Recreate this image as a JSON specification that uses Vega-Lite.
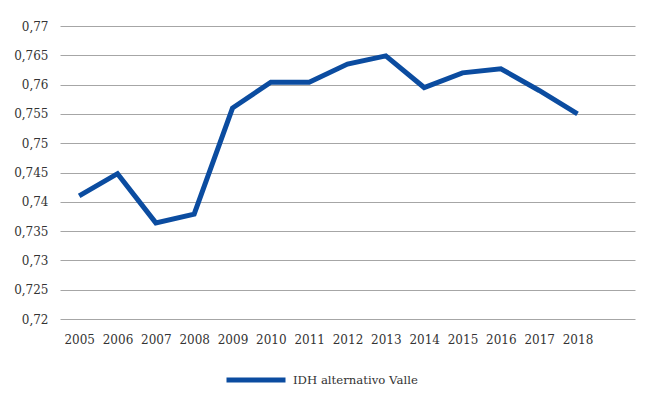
{
  "$schema": "https://vega.github.io/schema/vega-lite/v6.json",
  "autosize": "none",
  "width": 575,
  "height": 293,
  "padding": {"left": 60, "top": 26, "right": 22, "bottom": 84},
  "background": "white",
  "config": {
    "view": {"stroke": null},
    "font": "DejaVu Serif",
    "axis": {"labelFont": "DejaVu Serif", "labelFontSize": 12, "labelColor": "#333333", "ticks": false, "domain": false, "title": null}
  },
  "data": {
    "values": [
      {"year": 2005, "serie": "IDH alternativo Valle", "value": 0.741},
      {"year": 2006, "serie": "IDH alternativo Valle", "value": 0.7448},
      {"year": 2007, "serie": "IDH alternativo Valle", "value": 0.7364},
      {"year": 2008, "serie": "IDH alternativo Valle", "value": 0.7379},
      {"year": 2009, "serie": "IDH alternativo Valle", "value": 0.756},
      {"year": 2010, "serie": "IDH alternativo Valle", "value": 0.7604},
      {"year": 2011, "serie": "IDH alternativo Valle", "value": 0.7604},
      {"year": 2012, "serie": "IDH alternativo Valle", "value": 0.7635},
      {"year": 2013, "serie": "IDH alternativo Valle", "value": 0.7649},
      {"year": 2014, "serie": "IDH alternativo Valle", "value": 0.7595},
      {"year": 2015, "serie": "IDH alternativo Valle", "value": 0.762},
      {"year": 2016, "serie": "IDH alternativo Valle", "value": 0.7627},
      {"year": 2017, "serie": "IDH alternativo Valle", "value": 0.759},
      {"year": 2018, "serie": "IDH alternativo Valle", "value": 0.755}
    ]
  },
  "mark": {"type": "line", "strokeWidth": 5, "strokeJoin": "miter", "strokeCap": "butt"},
  "encoding": {
    "x": {
      "field": "year",
      "type": "quantitative",
      "scale": {"domain": [2004.5, 2019.5], "nice": false, "zero": false},
      "axis": {
        "values": [2005, 2006, 2007, 2008, 2009, 2010, 2011, 2012, 2013, 2014, 2015, 2016, 2017, 2018],
        "format": "d",
        "grid": false,
        "labelPadding": 15,
        "labelFlush": false,
        "labelOverlap": false
      }
    },
    "y": {
      "field": "value",
      "type": "quantitative",
      "scale": {"domain": [0.72, 0.77], "nice": false, "zero": false},
      "axis": {
        "values": [0.72, 0.725, 0.73, 0.735, 0.74, 0.745, 0.75, 0.755, 0.76, 0.765, 0.77],
        "labelExpr": "replace(format(datum.value, '.3~f'), '.', ',')",
        "grid": true,
        "gridColor": "#a6a6a6",
        "gridWidth": 1,
        "labelPadding": 12,
        "labelFlush": false,
        "labelOverlap": false
      }
    },
    "color": {
      "field": "serie",
      "type": "nominal",
      "scale": {"range": ["#0b4ca0"]},
      "legend": {
        "title": null,
        "orient": "none",
        "legendX": 164,
        "legendY": 322,
        "padding": 0,
        "symbolType": "stroke",
        "symbolSize": 3481,
        "symbolStrokeWidth": 5,
        "labelFont": "DejaVu Serif",
        "labelFontSize": 11.7,
        "labelColor": "#333333",
        "labelOffset": 5
      }
    }
  }
}
